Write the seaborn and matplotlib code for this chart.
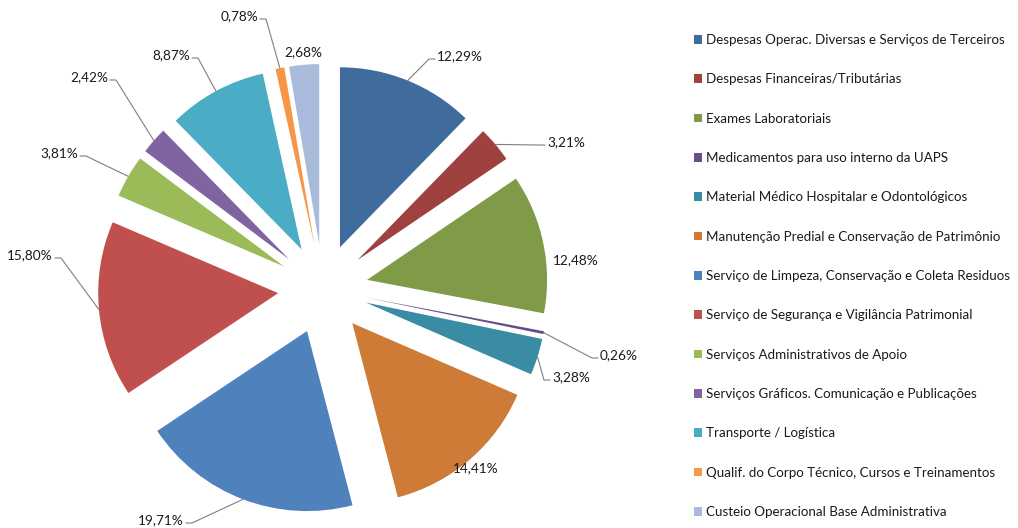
import numpy as np
import matplotlib
matplotlib.use("Agg")
import matplotlib.pyplot as plt
import seaborn as sns

sns.set_theme(style="white")
plt.rcParams["font.family"] = ["Lato", "DejaVu Sans"]

categories = [
    "Despesas Operac. Diversas e Serviços de Terceiros",
    "Despesas Financeiras/Tributárias",
    "Exames Laboratoriais",
    "Medicamentos para uso interno da UAPS",
    "Material Médico Hospitalar e Odontológicos",
    "Manutenção Predial e Conservação de Patrimônio",
    "Serviço de Limpeza, Conservação e Coleta Residuos",
    "Serviço de Segurança e Vigilância Patrimonial",
    "Serviços Administrativos de Apoio",
    "Serviços Gráficos. Comunicação e Publicações",
    "Transporte / Logística",
    "Qualif. do Corpo Técnico, Cursos e Treinamentos",
    "Custeio Operacional Base Administrativa",
]
percentages = [12.29, 3.21, 12.48, 0.26, 3.28, 14.41, 19.71, 15.80, 3.81, 2.42, 8.87, 0.78, 2.68]
pct_labels = ["12,29%", "3,21%", "12,48%", "0,26%", "3,28%", "14,41%", "19,71%",
              "15,80%", "3,81%", "2,42%", "8,87%", "0,78%", "2,68%"]
colors = ["#3F6B9D", "#9F413F", "#7F9B48", "#674E88", "#3A8BA4", "#CD7B37", "#4F81BD",
          "#C0504D", "#9BBB59", "#8064A2", "#4BACC6", "#F79646", "#A9BBDA"]

# label placement in pixels (x, y from top), horizontal alignment, leader line drawn?
label_pos = [
    (437, 56, "left", True),
    (547, 142, "left", True),
    (576, 260, "center", False),
    (600, 355, "left", True),
    (552, 377, "left", True),
    (476, 468, "center", False),
    (184, 520, "right", True),
    (53, 255, "right", True),
    (78, 153, "right", True),
    (108, 77, "right", True),
    (190, 55, "right", True),
    (258, 16, "right", True),
    (303, 52, "center", False),
]

W, H = 1018, 528
CX, CY, SCALE = 323, 289, 180.0


def to_data(px, py):
    return (px - CX) / SCALE, (CY - py) / SCALE


fig = plt.figure(figsize=(W / 100, H / 100), dpi=100)
ax = fig.add_axes([0, 0, 1, 1])

wedges, _ = ax.pie(
    percentages,
    explode=[0.25] * len(percentages),
    startangle=90,
    counterclock=False,
    colors=sns.color_palette(colors),
    wedgeprops=dict(linewidth=0),
)

ax.set_xlim(to_data(0, 0)[0], to_data(W, 0)[0])
ax.set_ylim(to_data(0, H)[1], to_data(0, 0)[1])
ax.axis("off")

for w, text, (px, py, ha, line) in zip(wedges, pct_labels, label_pos):
    tx, ty = to_data(px, py)
    ax.text(tx, ty, text, ha=ha, va="center", fontsize=9.8, color="#1a1a1a")
    if line:
        mid = np.deg2rad((w.theta1 + w.theta2) / 2)
        ax_x = w.center[0] + w.r * np.cos(mid)
        ax_y = w.center[1] + w.r * np.sin(mid)
        sign = -1 if ha == "left" else 1
        end_x, ly = to_data(px + sign * 2, py + 3)
        elb_x, _ = to_data(px + sign * 8, py + 3)
        ax.plot([ax_x, elb_x, end_x], [ax_y, ly, ly], color="#7f7f7f", lw=0.8)

ax.legend(
    wedges,
    categories,
    loc="upper left",
    bbox_to_anchor=(694 / W, 1 - 34 / H),
    bbox_transform=fig.transFigure,
    frameon=False,
    fontsize=9.6,
    handlelength=0.6,
    handleheight=0.6,
    handletextpad=0.3,
    labelspacing=2.05,
    borderpad=0,
    borderaxespad=0,
)
for t in ax.get_legend().get_texts():
    t.set_color("#1a1a1a")

fig.savefig("out.png", dpi=100)
